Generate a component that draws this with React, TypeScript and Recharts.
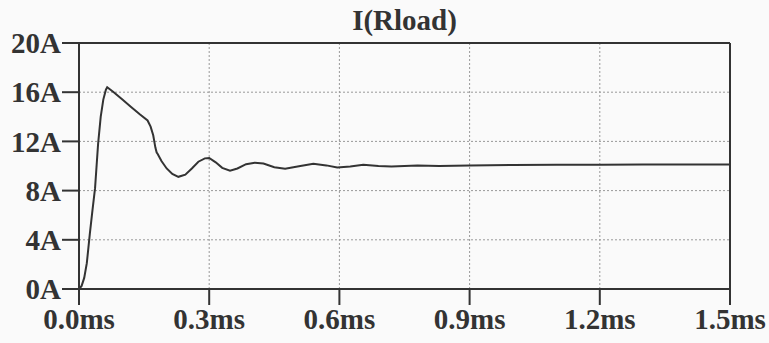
import { LineChart, Line, XAxis, YAxis, CartesianGrid, ReferenceLine } from 'recharts'

// transient of load current, time in ms, current in A
const times = [
  0, 0.006, 0.012, 0.018, 0.025, 0.031, 0.037, 0.044, 0.05, 0.056, 0.062, 0.065,
  0.08, 0.1, 0.12, 0.14, 0.158, 0.165, 0.171, 0.176, 0.179, 0.181, 0.19, 0.202,
  0.215, 0.229, 0.245, 0.26, 0.275, 0.29, 0.3, 0.315, 0.33, 0.348, 0.365, 0.385,
  0.405, 0.425, 0.45, 0.475, 0.51, 0.54, 0.57, 0.595, 0.625, 0.655, 0.69, 0.72,
  0.78, 0.83, 0.9, 1.0, 1.1, 1.2, 1.3, 1.4, 1.5
]
const currents = [
  0, 0.25, 0.9, 2.1, 4.5, 6.4, 8.2, 11.8, 14.0, 15.4, 16.2, 16.4,
  16.0, 15.4, 14.8, 14.2, 13.7, 13.2, 12.5, 11.5, 11.1, 11.0, 10.4, 9.8,
  9.35, 9.12, 9.3, 9.8, 10.35, 10.62, 10.65, 10.3, 9.85, 9.62, 9.8, 10.15,
  10.27, 10.2, 9.9, 9.78, 10.0, 10.18, 10.05, 9.88, 9.95, 10.1, 10.0, 9.95,
  10.05, 10.0, 10.05, 10.08, 10.1, 10.1, 10.12, 10.12, 10.12
]
const xTicks = [0, 0.3, 0.6, 0.9, 1.2, 1.5]
const yTicks = [0, 4, 8, 12, 16, 20]

const data = times.map((t, i) => ({ t, i: currents[i] }))

const INK = '#333'
const FONT = '"Liberation Serif", "Times New Roman", serif'

export default function App() {
  return (
    <div
      style={{
        position: 'fixed',
        left: 0,
        top: 0,
        width: 769,
        height: 343,
        background: '#fafafa'
      }}
    >
      <div
        style={{
          position: 'absolute',
          left: 79,
          width: 651,
          top: 4,
          textAlign: 'center',
          fontFamily: FONT,
          fontWeight: 'bold',
          fontSize: 29,
          lineHeight: '32px',
          color: INK
        }}
      >
        I(Rload)
      </div>
      <LineChart
        width={769}
        height={343}
        data={data}
        margin={{ top: 43, right: 39, bottom: 0, left: 0 }}
      >
        <CartesianGrid
          stroke="#999"
          strokeDasharray="2 2"
          verticalValues={[0.3, 0.6, 0.9, 1.2]}
          horizontalValues={[4, 8, 12, 16]}
        />
        <XAxis
          dataKey="t"
          type="number"
          domain={[0, 1.5]}
          ticks={xTicks}
          tickFormatter={(v: number) => `${v.toFixed(1)}ms`}
          height={54}
          tickSize={16}
          tickMargin={3}
          axisLine={{ stroke: INK, strokeWidth: 2 }}
          tickLine={{ stroke: INK, strokeWidth: 2 }}
          tick={{ fill: INK, fontFamily: FONT, fontWeight: 'bold', fontSize: 29 }}
          interval={0}
        />
        <YAxis
          type="number"
          domain={[0, 20]}
          ticks={yTicks}
          tickFormatter={(v: number) => `${v}A`}
          width={79}
          tickSize={17}
          tickMargin={1}
          axisLine={{ stroke: INK, strokeWidth: 2 }}
          tickLine={{ stroke: INK, strokeWidth: 2 }}
          tick={{ fill: INK, fontFamily: FONT, fontWeight: 'bold', fontSize: 29 }}
          interval={0}
        />
        <ReferenceLine y={20} stroke={INK} strokeWidth={2} />
        <ReferenceLine x={1.5} stroke={INK} strokeWidth={2} />
        <Line
          dataKey="i"
          type="linear"
          stroke={INK}
          strokeWidth={2}
          dot={false}
          isAnimationActive={false}
        />
      </LineChart>
    </div>
  )
}
